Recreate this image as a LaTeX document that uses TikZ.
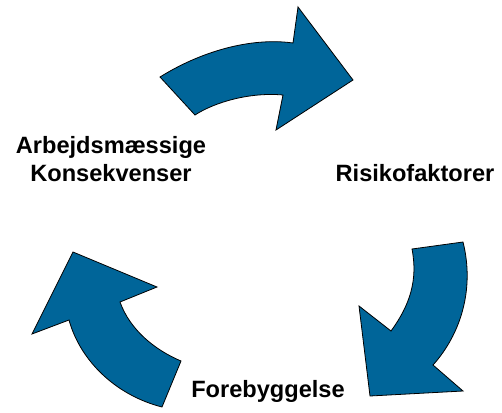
\documentclass[tikz,border=0pt]{standalone}
\usepackage{fontspec}
\setmainfont{Liberation Sans}
\definecolor{arrowblue}{RGB}{0,101,153}
\begin{document}
\begin{tikzpicture}[x=1pt,y=-1pt,
  cyclearrow/.style={fill=arrowblue,draw=black,line width=0.8pt,line join=miter},
  lbl/.style={inner sep=0pt,font=\fontsize{23.6}{28}\selectfont\bfseries,text=black}]
\useasboundingbox (0,0) rectangle (502,412);
% top arrow
\draw[cyclearrow] (160,77) -- (195,115) .. controls (215,102) and (250,92) .. (283,95)
  -- (276,130) -- (353,80) -- (298,7) -- (293,43)
  .. controls (250,37) and (200,52) .. (160,77) -- cycle;
% right arrow
\draw[cyclearrow] (412,249) -- (463,242) .. controls (475,290) and (460,335) .. (433,365)
  -- (463,391) -- (370,396) -- (359,306) -- (391,331)
  .. controls (410,305) and (418,280) .. (412,249) -- cycle;
% left arrow
\draw[cyclearrow] (162,407) -- (181,361) .. controls (155,350) and (130,330) .. (120,302)
  -- (157,287) -- (73,252) -- (32,334) -- (69,320)
  .. controls (80,360) and (115,395) .. (162,407) -- cycle;
% labels
\node[lbl,anchor=base] (arb1) at (111,153) {Arbejdsmæssige};
\node[lbl,anchor=base] (arb2) at (111,181.7) {Konsekvenser};
\node[lbl,anchor=base] (risk) at (415,181.7) {Risikofaktorer};
\node[lbl,anchor=base] (fore) at (268,397.3) {Forebyggelse};
\end{tikzpicture}
\end{document}
